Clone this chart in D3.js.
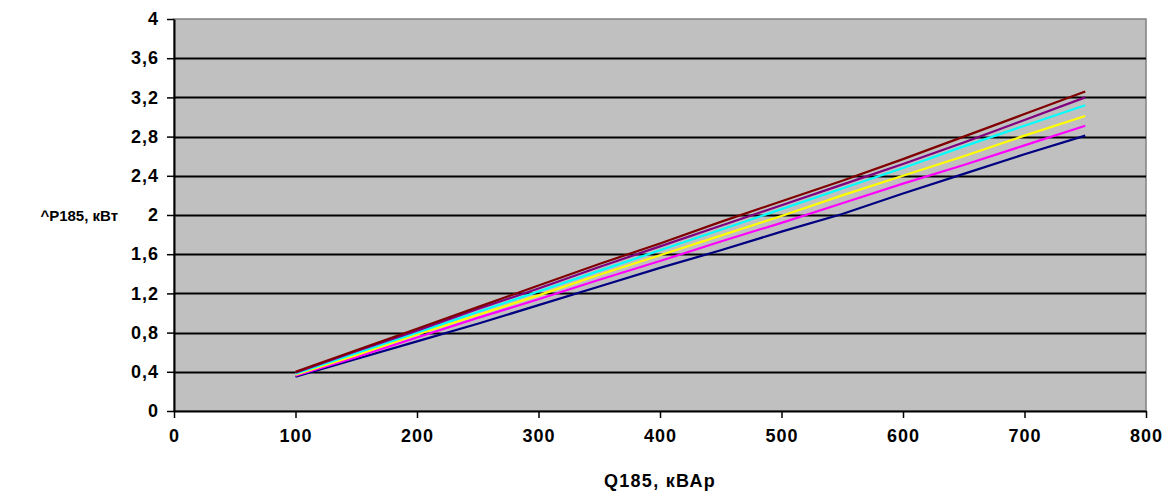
<!DOCTYPE html>
<html>
<head>
<meta charset="utf-8">
<script src="https://cdn.jsdelivr.net/npm/d3@7"></script>
<style>
  body { margin: 0; background: #fff; }
  text { font-family: "Liberation Sans", Arial, sans-serif; font-weight: bold; }
</style>
</head>
<body>
<div id="chart"></div>
<script>
// Q185, kVAr
const qValues = [100, 150, 200, 250, 300, 350, 400, 450, 500, 550, 600, 650, 700, 750];

// ^P185, kW for each curve
const seriesMaroon  = [0.40, 0.62, 0.84, 1.06, 1.28, 1.50, 1.71, 1.93, 2.14, 2.35, 2.57, 2.80, 3.03, 3.26];
const seriesPurple  = [0.39, 0.61, 0.82, 1.04, 1.25, 1.47, 1.68, 1.89, 2.10, 2.31, 2.52, 2.74, 2.97, 3.20];
const seriesCyan    = [0.38, 0.59, 0.80, 1.01, 1.22, 1.43, 1.64, 1.85, 2.06, 2.27, 2.48, 2.70, 2.91, 3.12];
const seriesYellow  = [0.37, 0.57, 0.78, 0.98, 1.18, 1.39, 1.59, 1.79, 1.99, 2.20, 2.40, 2.60, 2.81, 3.01];
const seriesMagenta = [0.36, 0.55, 0.75, 0.95, 1.14, 1.34, 1.53, 1.73, 1.92, 2.12, 2.32, 2.51, 2.71, 2.91];
const seriesNavy    = [0.35, 0.53, 0.71, 0.89, 1.08, 1.27, 1.46, 1.64, 1.83, 2.01, 2.22, 2.42, 2.62, 2.81];

const xTicks = [0, 100, 200, 300, 400, 500, 600, 700, 800];
const yTicks = [0, 0.4, 0.8, 1.2, 1.6, 2, 2.4, 2.8, 3.2, 3.6, 4];

const series = [
  {values: seriesNavy,    color: "#000080"},
  {values: seriesMagenta, color: "#ff00ff"},
  {values: seriesYellow,  color: "#ffff00"},
  {values: seriesCyan,    color: "#00ffff"},
  {values: seriesPurple,  color: "#800080"},
  {values: seriesMaroon,  color: "#800000"}
];

const W = 1176, H = 497;
const margin = {top: 19, right: 30, bottom: 86, left: 174};
const width = W - margin.left - margin.right,
      height = H - margin.top - margin.bottom;

const svg = d3.select("#chart").append("svg")
  .attr("width", W)
  .attr("height", H);

const g = svg.append("g")
  .attr("transform", `translate(${margin.left},${margin.top})`);

const x = d3.scaleLinear().domain([0, 800]).range([0, width]);
const y = d3.scaleLinear().domain([0, 4]).range([height, 0]);

// plot area
g.append("rect")
  .attr("width", width)
  .attr("height", height)
  .attr("fill", "#c0c0c0")
  .attr("stroke", "#808080")
  .attr("stroke-width", 1.5);

// gridlines
g.selectAll(".grid")
  .data(yTicks.filter(d => d > 0 && d < 4))
  .enter()
  .append("line")
  .attr("x1", 0)
  .attr("x2", width)
  .attr("y1", d => Math.round(y(d)) + 0.5)
  .attr("y2", d => Math.round(y(d)) + 0.5)
  .attr("stroke", "#000")
  .attr("stroke-width", 2);

// lines
const line = d3.line()
  .x((d, i) => x(qValues[i]))
  .y(d => y(d));

g.selectAll(".series")
  .data(series)
  .enter()
  .append("path")
  .attr("d", d => line(d.values))
  .attr("fill", "none")
  .attr("stroke", d => d.color)
  .attr("stroke-width", 2.2);

// axes
const fmt = d => String(d).replace(".", ",");

const yAxis = g.append("g")
  .call(d3.axisLeft(y).tickValues(yTicks).tickFormat(fmt).tickSize(7).tickSizeOuter(0));
const xAxis = g.append("g")
  .attr("transform", `translate(0,${height})`)
  .call(d3.axisBottom(x).tickValues(xTicks).tickSize(7).tickSizeOuter(0));

[xAxis, yAxis].forEach(a => {
  a.attr("font-size", null);
  a.select(".domain").attr("stroke", "#000").attr("stroke-width", 2);
  a.selectAll(".tick line").attr("stroke", "#000").attr("stroke-width", 1.5);
  a.selectAll("text")
   .attr("fill", "#000")
   .style("font-size", "18px")
   .style("letter-spacing", "1px")
   .style("font-family", "'Liberation Sans', Arial, sans-serif")
   .style("font-weight", "bold");
});
yAxis.selectAll("text").attr("x", -15);
xAxis.selectAll("text").attr("y", 18);

// axis titles
svg.append("text")
  .attr("x", margin.left + width / 2)
  .attr("y", 487)
  .attr("text-anchor", "middle")
  .style("font-size", "18px")
  .style("letter-spacing", "1.3px")
  .text("Q185, кВАр");

svg.append("text")
  .attr("x", 118)
  .attr("y", margin.top + y(2) + 6)
  .attr("text-anchor", "end")
  .style("font-size", "15px")
  .text("^P185, кВт");
</script>
</body>
</html>
